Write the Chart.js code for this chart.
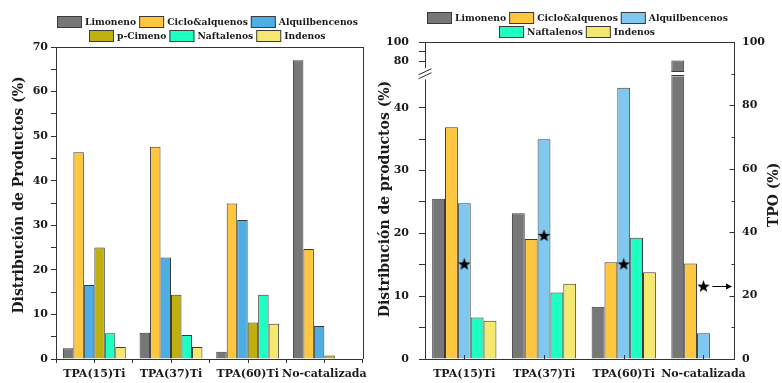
<!DOCTYPE html>
<html><head><meta charset="utf-8">
<script src="https://cdn.jsdelivr.net/npm/chart.js@4/dist/chart.umd.min.js"></script>
<style>
html,body{margin:0;padding:0;background:#fff;width:782px;height:383px;overflow:hidden}
canvas{position:absolute;top:0}
</style></head><body>
<canvas id="cA" width="372" height="383" style="left:0"></canvas>
<canvas id="cB" width="410" height="383" style="left:372px"></canvas>
<script>
// ---------- data ----------
const categories = ['TPA(15)Ti', 'TPA(37)Ti', 'TPA(60)Ti', 'No-catalizada'];

// Panel A (left)
const namesA = ['Limoneno', 'Ciclo&alquenos', 'Alquilbencenos', 'p-Cimeno', 'Naftalenos', 'Indenos'];
const limonenoA   = [2.4, 5.9, 1.6, 67.0];
const cicloA      = [46.4, 47.6, 34.9, 24.7];
const alquilA     = [16.6, 22.8, 31.2, 7.4];
const pcimenoA    = [25.0, 14.4, 8.2, 0.8];
const naftalenosA = [5.8, 5.4, 14.4, 0];
const indenosA    = [2.7, 2.7, 7.9, 0];
const yTicksA = [0, 10, 20, 30, 40, 50, 60, 70];

// Panel B (right)
const namesB = ['Limoneno', 'Ciclo&alquenos', 'Alquilbencenos', 'Naftalenos', 'Indenos'];
const limonenoB   = [25.5, 23.2, 8.3, 81.0];
const cicloB      = [36.9, 19.1, 15.4, 15.2];
const alquilB     = [24.8, 35.0, 43.2, 4.1];
const naftalenosB = [6.6, 10.6, 19.3, 0];
const indenosB    = [6.1, 12.0, 13.8, 0];
const tpoB        = [30.0, 39.0, 30.0, 23.0];
const yTicksB  = [0, 10, 20, 30, 40, 80, 100];
const yMinorB  = [5, 15, 25, 35, 90];
const y2TicksB = [0, 20, 40, 60, 80, 100];

// ---------- style ----------
const colA = ['#777777', '#FFC63F', '#4DAEE4', '#BFB010', '#1EFFC2', '#F4E870'];
const colB = ['#777777', '#FFC63F', '#80C8F0', '#1EFFC2', '#F4E870'];
const EDGE = '#3a3a3a';
const AX = '#333333';
const TICKFONT = {family: 'DejaVu Serif', weight: 'bold', size: 11};
const LEGFONT = 'bold 9.2px "DejaVu Serif"';
const TITLEFONT = 'bold 14px "DejaVu Serif"';

// broken axis transform for panel B (0-45 lower, 70-100 upper)
const BRK_LO = 45, BRK_HI = 70, BRK_GAP = 0.85, UP_K = 0.1542;
function toAxis(v) {
  if (v <= BRK_LO) return v;
  if (v >= BRK_HI) return BRK_LO + BRK_GAP + (v - BRK_HI) * UP_K;
  return BRK_LO;
}

function drawLegend(chart, rows, cx, ys) {
  const ctx = chart.ctx;
  ctx.save();
  ctx.font = LEGFONT;
  ctx.textBaseline = 'middle';
  const ds = chart.data.datasets;
  rows.forEach((row, r) => {
    const widths = row.map(i => 25 + 3 + ctx.measureText(ds[i].label).width);
    const total = widths.reduce((a, b) => a + b, 0) + 3 * (row.length - 1);
    let x = Math.round(cx - total / 2);
    const y = ys[r];
    row.forEach((i, k) => {
      ctx.fillStyle = ds[i].backgroundColor;
      ctx.fillRect(x, y - 6, 25, 12);
      ctx.strokeStyle = EDGE; ctx.lineWidth = 1;
      ctx.strokeRect(x + 0.5, y - 6 + 0.5, 24, 11);
      ctx.fillStyle = '#1a1a1a';
      ctx.fillText(ds[i].label, x + 28, y + 1);
      x += widths[k] + 3;
    });
  });
  ctx.restore();
}

function vText(ctx, text, x, y) {
  ctx.save();
  ctx.translate(x, y);
  ctx.rotate(-Math.PI / 2);
  ctx.font = TITLEFONT;
  ctx.fillStyle = '#1a1a1a';
  ctx.textAlign = 'center';
  ctx.textBaseline = 'middle';
  ctx.fillText(text, 0, 0);
  ctx.restore();
}

function line(ctx, x1, y1, x2, y2) {
  ctx.beginPath(); ctx.moveTo(x1, y1); ctx.lineTo(x2, y2); ctx.stroke();
}

// ---------- chart A ----------
const dataA = [limonenoA, cicloA, alquilA, pcimenoA, naftalenosA, indenosA];
const plugA = {
  id: 'extrasA',
  afterDraw(chart) {
    const ctx = chart.ctx, a = chart.chartArea;
    ctx.save();
    ctx.strokeStyle = AX; ctx.lineWidth = 1;
    line(ctx, a.left, Math.round(a.top) + 0.5, Math.round(a.right) + 0.5, Math.round(a.top) + 0.5);
    line(ctx, Math.round(a.right) + 0.5, a.top, Math.round(a.right) + 0.5, a.bottom);
    const xs = chart.scales.x;
    categories.forEach((c, i) => {
      const px = Math.round(xs.getPixelForValue(i)) + 0.5;
      line(ctx, px, a.bottom, px, a.bottom + 4);
    });
    ctx.restore();
    vText(ctx, 'Distribución de Productos (%)', 19, 195);
    drawLegend(chart, [[0, 1, 2], [3, 4, 5]], 207, [22, 36]);
  }
};
new Chart(document.getElementById('cA'), {
  type: 'bar',
  data: {
    labels: categories,
    datasets: namesA.map((n, i) => ({
      label: n, data: dataA[i], backgroundColor: colA[i],
      borderColor: EDGE, borderWidth: 1,
      categoryPercentage: 0.82, barPercentage: 1.0
    }))
  },
  options: {
    responsive: false, devicePixelRatio: 1, animation: false,
    layout: {padding: {top: 47, right: 3, left: 0, bottom: 0}},
    plugins: {legend: {display: false}, tooltip: {enabled: false}},
    scales: {
      x: {
        grid: {drawOnChartArea: false, tickLength: 4, color: AX},
        border: {color: AX, width: 1},
        ticks: {font: TICKFONT, color: '#1a1a1a', padding: 5, maxRotation: 0, autoSkip: false},
        afterFit(s) { s.height = 24; }
      },
      y: {
        min: 0, max: 70,
        grid: {drawOnChartArea: false, tickLength: 5, color: AX},
        border: {color: AX, width: 1},
        ticks: {
          stepSize: 5, autoSkip: false, font: TICKFONT, color: '#1a1a1a', padding: 3,
          callback: v => (yTicksA.includes(v) ? String(v) : '')
        },
        afterFit(s) { s.width = 56; }
      }
    }
  },
  plugins: [plugA]
});

// ---------- chart B ----------
const dataB = [limonenoB, cicloB, alquilB, naftalenosB, indenosB];

function makeStar(size) {
  const c = document.createElement('canvas');
  c.width = c.height = size;
  const g = c.getContext('2d');
  const R = size / 2, r = R * 0.42;
  g.beginPath();
  for (let i = 0; i < 10; i++) {
    const ang = -Math.PI / 2 + i * Math.PI / 5;
    const rad = i % 2 ? r : R;
    g.lineTo(R + rad * Math.cos(ang), R + 0.6 + rad * Math.sin(ang));
  }
  g.closePath();
  g.fillStyle = '#000';
  g.fill();
  return c;
}
const starImg = makeStar(13);

const yTickListB = yTicksB.map(v => ({v, lab: String(v)})).concat(yMinorB.map(v => ({v, lab: ''})))
  .sort((p, q) => p.v - q.v);

const plugB = {
  id: 'extrasB',
  afterDatasetsDraw(chart) {
    const ctx = chart.ctx, a = chart.chartArea;
    const ys = chart.scales.y, xs = chart.scales.x, y2 = chart.scales.y2;
    const yTop = ys.getPixelForValue(BRK_LO + BRK_GAP);
    const yBot = ys.getPixelForValue(BRK_LO);
    ctx.save();
    // gap in broken bars
    const meta = chart.getDatasetMeta(0);
    meta.data.forEach((bar, i) => {
      if (limonenoB[i] > BRK_LO) {
        const p = bar.getProps(['x', 'width'], true);
        const x0 = p.x - p.width / 2, x1 = p.x + p.width / 2;
        ctx.fillStyle = '#fff';
        ctx.fillRect(x0 - 1, yTop, x1 - x0 + 2, yBot - yTop);
        ctx.strokeStyle = EDGE; ctx.lineWidth = 1;
        line(ctx, x0, Math.round(yTop) + 0.5, x1, Math.round(yTop) + 0.5);
        line(ctx, x0, Math.round(yBot) - 0.5, x1, Math.round(yBot) - 0.5);
      }
    });
    // arrow from last star to right axis
    const last = tpoB.length - 1;
    const sx = xs.getPixelForValue(last), sy = Math.round(y2.getPixelForValue(tpoB[last])) + 0.5;
    ctx.strokeStyle = '#000'; ctx.fillStyle = '#000'; ctx.lineWidth = 1;
    line(ctx, sx + 9, sy, a.right - 6, sy);
    ctx.beginPath();
    ctx.moveTo(a.right - 2, sy); ctx.lineTo(a.right - 8, sy - 3); ctx.lineTo(a.right - 8, sy + 3); ctx.closePath();
    ctx.fill();
    // x ticks inward
    ctx.strokeStyle = AX;
    categories.forEach((c, i) => {
      const px = Math.round(xs.getPixelForValue(i)) + 0.5;
      line(ctx, px, a.bottom, px, a.bottom - 4);
    });
    ctx.restore();
  },
  afterDraw(chart) {
    const ctx = chart.ctx, a = chart.chartArea;
    const ys = chart.scales.y, y2 = chart.scales.y2;
    ctx.save();
    ctx.strokeStyle = AX; ctx.lineWidth = 1;
    // top border
    line(ctx, a.left, Math.round(a.top) + 0.5, a.right, Math.round(a.top) + 0.5);
    // right axis ticks (inward)
    const rx = Math.round(a.right) + 0.5;
    for (let v = 0; v <= 100; v += 10) {
      const py = Math.round(y2.getPixelForValue(v)) + 0.5;
      line(ctx, rx, py, rx - (v % 20 === 0 ? 5 : 3), py);
    }
    // axis break on left axis
    const ax = Math.round(a.left) + 0.5;
    const yTop = ys.getPixelForValue(BRK_LO + BRK_GAP) - 3;
    const yBot = ys.getPixelForValue(BRK_LO) + 3;
    ctx.fillStyle = '#fff';
    ctx.fillRect(ax - 2, yTop, 4, yBot - yTop);
    const ym = (yTop + yBot) / 2;
    line(ctx, ax - 7, ym + 1, ax + 6, ym - 5);
    line(ctx, ax - 7, ym + 5, ax + 6, ym - 1);
    ctx.restore();
    vText(ctx, 'Distribución de productos (%)', 13, 199);
    vText(ctx, 'TPO (%)', 402, 195);
    drawLegend(chart, [[0, 1, 2], [3, 4]], 205, [18, 32]);
  }
};

const dsB = namesB.map((n, i) => ({
  type: 'bar', label: n,
  data: dataB[i].map((v, k) => ({x: k, y: toAxis(v)})),
  backgroundColor: colB[i], borderColor: EDGE, borderWidth: 1,
  categoryPercentage: 0.806, barPercentage: 1.0, yAxisID: 'y', order: 1
}));
dsB.push({
  type: 'line', label: 'TPO', yAxisID: 'y2', order: 0,
  data: tpoB.map((v, k) => ({x: k, y: v})),
  showLine: false, pointStyle: starImg, pointRadius: 6, pointHoverRadius: 6
});

new Chart(document.getElementById('cB'), {
  type: 'bar',
  data: {datasets: dsB},
  options: {
    responsive: false, devicePixelRatio: 1, animation: false,
    layout: {padding: {top: 42, right: 0, left: 0, bottom: 0}},
    plugins: {legend: {display: false}, tooltip: {enabled: false}},
    scales: {
      x: {
        type: 'linear', min: -0.493, max: 3.383, offset: false,
        grid: {drawOnChartArea: false, drawTicks: false, color: AX},
        border: {color: AX, width: 1},
        afterBuildTicks(axis) { axis.ticks = categories.map((c, i) => ({value: i})); },
        ticks: {font: TICKFONT, color: '#1a1a1a', padding: 9, maxRotation: 0, autoSkip: false,
          callback: v => categories[v]},
        afterFit(s) { s.height = 24; }
      },
      y: {
        type: 'linear', position: 'left', min: 0, max: toAxis(100),
        grid: {drawOnChartArea: false, tickLength: 6, color: AX},
        border: {color: AX, width: 1},
        afterBuildTicks(axis) { axis.ticks = yTickListB.map(t => ({value: toAxis(t.v)})); },
        ticks: {font: TICKFONT, color: '#1a1a1a', padding: 10, autoSkip: false,
          callback: (v, i) => yTickListB[i].lab},
        afterFit(s) { s.width = 53; }
      },
      y2: {
        type: 'linear', position: 'right', min: 0, max: 100,
        grid: {drawOnChartArea: false, drawTicks: false, color: AX},
        border: {color: AX, width: 1},
        ticks: {font: TICKFONT, color: '#1a1a1a', padding: 8, stepSize: 20, autoSkip: false,
          callback: v => (y2TicksB.includes(v) ? String(v) : '')},
        afterFit(s) { s.width = 48; }
      }
    }
  },
  plugins: [plugB]
});
</script>
</body></html>
